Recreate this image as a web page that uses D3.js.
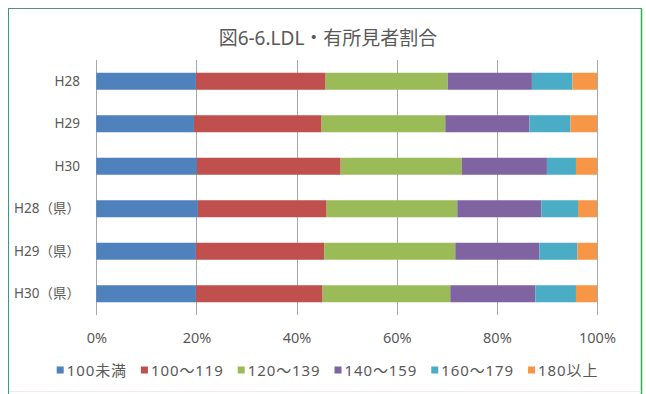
<!DOCTYPE html>
<html>
<head>
<meta charset="utf-8">
<script src="https://cdn.jsdelivr.net/npm/d3@7"></script>
<style>
	html, body { margin: 0; padding: 0; background: #fff; }
	svg { display: block; font-family: "Noto Sans", "Noto Sans CJK JP", sans-serif; }
	text { fill: #595959; }
</style>
</head>
<body>
<svg id="chart" width="646" height="394"></svg>
<script>
"use strict";

var title = "図6-6.LDL・有所見者割合";
var categories = ["H28", "H29", "H30", "H28（県）", "H29（県）", "H30（県）"];
var seriesNames = ["100未満", "100～119", "120～139", "140～159", "160～179", "180以上"];
var seriesColors = ["#4f81bd", "#c0504d", "#9bbb59", "#8064a2", "#4bacc6", "#f79646"];
var tickValues = [0, 0.2, 0.4, 0.6, 0.8, 1];

// percent of each category, one array per legend entry
var under100 = [19.9, 19.5, 20.1, 20.3, 19.9, 19.9];
var from100 = [25.9, 25.5, 28.7, 25.7, 25.6, 25.3];
var from120 = [24.4, 24.7, 24.2, 26.1, 26.2, 25.5];
var from140 = [16.8, 16.8, 17.0, 16.8, 16.8, 17.0];
var from160 = [8.1, 8.2, 5.8, 7.3, 7.6, 8.1];
var over180 = [4.9, 5.3, 4.2, 3.8, 3.9, 4.2];

var FONT = "'Noto Sans', 'Noto Sans CJK JP', sans-serif";

document.addEventListener("DOMContentLoaded", init);

function init() {
	var svg = d3.select("#chart");
	var seriesValues = [under100, from100, from120, from140, from160, over180];

	// rows for d3.stack
	var rows = categories.map((c, i) => {
		var row = {cat: c};
		seriesNames.forEach((s, j) => { row[s] = seriesValues[j][i]; });
		return row;
	});
	var stacked = d3.stack()
		.keys(seriesNames)
		.offset(d3.stackOffsetExpand)(rows);

	var x = d3.scaleLinear().domain([0, 1]).range([96.3, 597]);
	var y = d3.scaleBand()
		.domain(categories)
		.range([60, 315])
		.paddingInner(0.6)
		.paddingOuter(0.3);
	var color = d3.scaleOrdinal().domain(seriesNames).range(seriesColors);

	// frame
	svg.append("rect")
	   .attr("width", 646).attr("height", 394)
	   .attr("fill", "#fff");
	var frame = svg.append("g").attr("fill", "none");
	frame.append("line").attr("x1", 8).attr("x2", 641).attr("y1", 8.5).attr("y2", 8.5)
	     .attr("stroke", "#5f8f7c");
	frame.append("line").attr("x1", 8.5).attr("x2", 8.5).attr("y1", 8).attr("y2", 394)
	     .attr("stroke", "#3a9c72");
	frame.append("line").attr("x1", 641.5).attr("x2", 641.5).attr("y1", 8).attr("y2", 394)
	     .attr("stroke", "#2db04b").attr("stroke-width", 1.5);
	frame.append("line").attr("x1", 9).attr("x2", 641).attr("y1", 391.5).attr("y2", 391.5)
	     .attr("stroke", "#f6e8f2");

	svg.append("text")
	   .attr("x", 328)
	   .attr("y", 38)
	   .attr("text-anchor", "middle")
	   .attr("dominant-baseline", "central")
	   .style("font-size", "19px")
	   .text(title);

	// gridlines (also serve as tick marks below the plot)
	svg.append("g")
	   .selectAll("line")
	   .data(tickValues)
	   .enter()
	   .append("line")
	   .attr("x1", d => Math.round(x(d)) + 0.5)
	   .attr("x2", d => Math.round(x(d)) + 0.5)
	   .attr("y1", 60)
	   .attr("y2", 315)
	   .attr("stroke", "#a8a8a8");

	var xAxis = d3.axisBottom(x)
		.tickValues(tickValues)
		.tickFormat(d3.format(".0%"))
		.tickSize(0)
		.tickPadding(0);
	svg.append("g")
	   .attr("transform", "translate(0,333)")
	   .call(xAxis)
	   .attr("font-family", FONT)
	   .attr("font-size", 14.5)
	   .call(g => g.select(".domain").remove())
	   .selectAll("text")
	   .attr("fill", "#595959");

	var yAxis = d3.axisLeft(y).tickSize(0).tickPadding(0);
	svg.append("g")
	   .attr("transform", "translate(80,0)")
	   .call(yAxis)
	   .attr("font-family", FONT)
	   .attr("font-size", 13.5)
	   .call(g => g.select(".domain").remove())
	   .selectAll("text")
	   .attr("fill", "#595959");

	// bars
	svg.append("g")
	   .selectAll("g")
	   .data(stacked)
	   .enter()
	   .append("g")
	   .attr("fill", d => color(d.key))
	   .selectAll("rect")
	   .data(d => d)
	   .enter()
	   .append("rect")
	   .attr("x", d => x(d[0]))
	   .attr("y", d => y(d.data.cat))
	   .attr("width", d => x(d[1]) - x(d[0]))
	   .attr("height", y.bandwidth());

	// legend, laid out from measured text widths and centred
	var legend = svg.append("g");
	var items = legend.selectAll("g")
		.data(seriesNames)
		.enter()
		.append("g");
	items.append("rect")
	     .attr("width", 7)
	     .attr("height", 7)
	     .attr("y", -3.5)
	     .attr("fill", d => color(d));
	items.append("text")
	     .attr("x", 10)
	     .attr("dominant-baseline", "central")
	     .style("font-size", "15px")
	     .style("letter-spacing", "0.9px")
	     .text(d => d);
	var pos = 0;
	items.each(function() {
		var w = this.querySelector("text").getComputedTextLength() + 10;
		d3.select(this).attr("transform", "translate(" + pos + ",0)");
		pos += w + 14;
	});
	pos -= 14;
	legend.attr("transform", "translate(" + (327.5 - pos / 2) + ",370)");
}
</script>
</body>
</html>
